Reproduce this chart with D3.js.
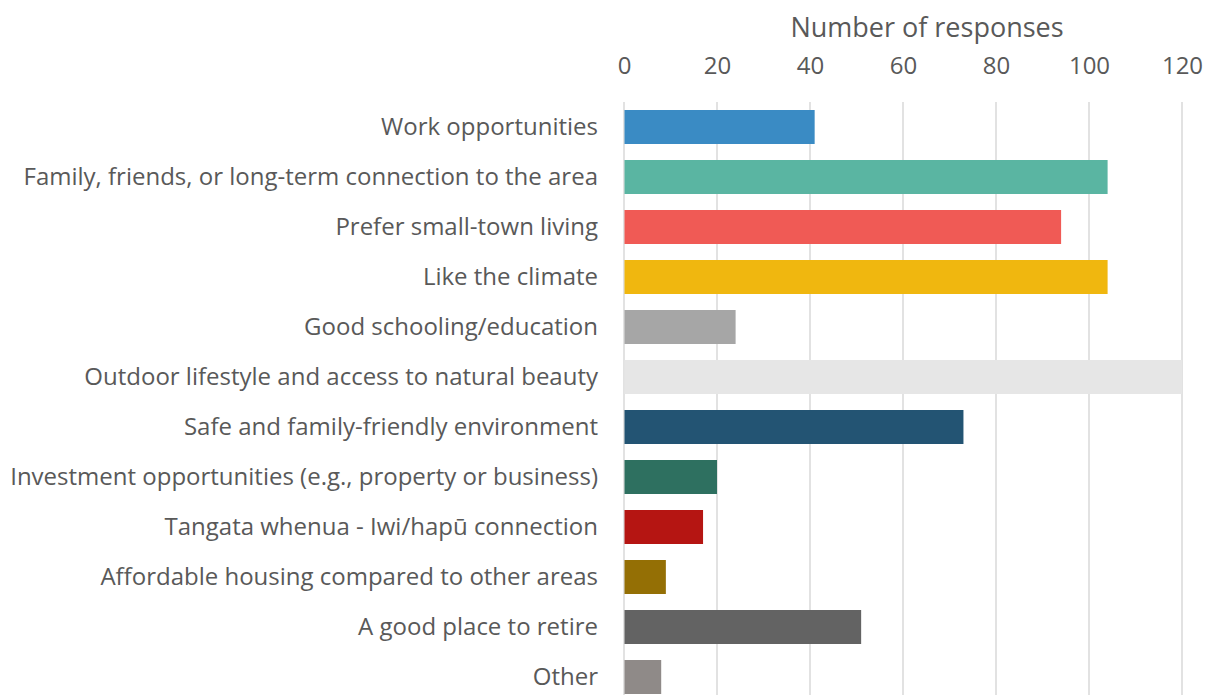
<!DOCTYPE html>
<html><head><meta charset="utf-8">
<script src="https://cdn.jsdelivr.net/npm/d3@7"></script>
<style>body{margin:0;background:#fff;overflow:hidden}svg{display:block}</style>
</head><body>
<script>
const categories = [
  "Work opportunities",
  "Family, friends, or long-term connection to the area",
  "Prefer small-town living",
  "Like the climate",
  "Good schooling/education",
  "Outdoor lifestyle and access to natural beauty",
  "Safe and family-friendly environment",
  "Investment opportunities (e.g., property or business)",
  "Tangata whenua - Iwi/hapū connection",
  "Affordable housing compared to other areas",
  "A good place to retire",
  "Other"
];
const values = [41, 104, 94, 104, 24, 120, 73, 20, 17, 9, 51, 8];
const colors = ["#3a8bc4","#5ab5a2","#f05a55","#f0b70f","#a6a6a6","#e6e6e6","#235473","#2e7060","#b51512","#946f05","#636363","#8f8a88"];
const ticks = [0, 20, 40, 60, 80, 100, 120];
const axisTitle = "Number of responses";

const W = 1206, H = 695;
const svg = d3.select("body").append("svg").attr("width", W).attr("height", H);
const font = "'Open Sans', 'Noto Sans', sans-serif";
const textColor = "#595959";

const x = d3.scaleLinear().domain([0, 120]).range([624, 1182]);
const y = d3.scaleBand().domain(categories).range([102, 702]).paddingInner(0.32).paddingOuter(0.16);

// gridlines
svg.append("g").selectAll("line").data(ticks).join("line")
  .attr("x1", d => x(d)).attr("x2", d => x(d))
  .attr("y1", 102).attr("y2", 702)
  .attr("stroke", "#d9d9d9").attr("stroke-width", 1.5);

// bars
svg.append("g").selectAll("rect").data(categories).join("rect")
  .attr("x", x(0) + 0.5)
  .attr("y", d => y(d))
  .attr("height", y.bandwidth())
  .attr("width", (d, i) => x(values[i]) - x(0) - 0.5)
  .attr("fill", (d, i) => colors[i]);

// top axis labels
const xAxis = d3.axisTop(x).tickValues(ticks).tickSize(0).tickPadding(0);
const gx = svg.append("g").attr("transform", "translate(0,74)").call(xAxis);
gx.select(".domain").remove();
gx.selectAll("text").attr("fill", textColor).style("font-family", font).style("font-size", "24px");

// y axis labels
const yAxis = d3.axisLeft(y).tickSize(0).tickPadding(0);
const gy = svg.append("g").attr("transform", "translate(598,0)").call(yAxis);
gy.select(".domain").remove();
gy.selectAll("text").attr("fill", textColor).style("font-family", font).style("font-size", "24px");

// axis title
svg.append("text").attr("x", 927).attr("y", 37).attr("text-anchor", "middle")
  .attr("fill", textColor).style("font-family", font).style("font-size", "27px")
  .text(axisTitle);
</script>
</body></html>
